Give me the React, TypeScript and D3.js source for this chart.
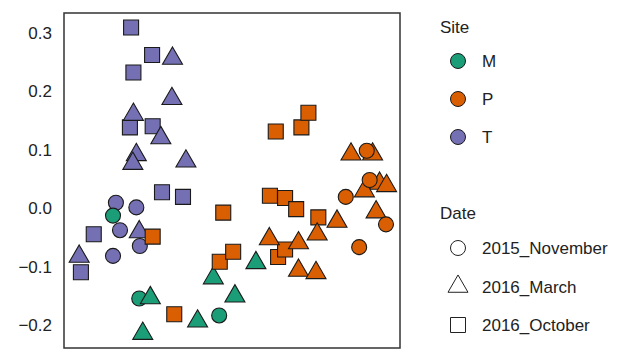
import React from 'react';
import * as d3 from 'd3';

// NMDS-style ordination: x has no visible labels, y ticks -0.2..0.3
const sites = ['M', 'P', 'T'];
const dates = ['2015_November', '2016_March', '2016_October'];
const siteColors = ['#1b9e77', '#d95f02', '#7570b3'];
const yTicks = [-0.2, -0.1, 0.0, 0.1, 0.2, 0.3];

// [x, y] per site and date
const tNov = [[-0.199, 0.009], [-0.164, 0.001], [-0.192, -0.038], [-0.158, -0.065], [-0.204, -0.082]];
const tMar = [[-0.102, 0.256], [-0.103, 0.187], [-0.169, 0.160], [-0.122, 0.120], [-0.164, 0.091], [-0.170, 0.076], [-0.079, 0.080], [-0.159, -0.041], [-0.262, -0.083]];
const tOct = [[-0.173, 0.309], [-0.137, 0.262], [-0.169, 0.232], [-0.175, 0.138], [-0.136, 0.140], [-0.120, 0.027], [-0.084, 0.019], [-0.237, -0.045], [-0.259, -0.110]];
const mNov = [[-0.204, -0.013], [-0.159, -0.155], [-0.022, -0.184]];
const mMar = [[-0.140, -0.154], [-0.153, -0.215], [-0.059, -0.194], [0.005, -0.151], [-0.032, -0.120], [0.041, -0.094]];
const pNov = [[0.236, 0.048], [0.195, 0.019], [0.264, -0.028], [0.218, -0.067]];
const pMar = [[0.204, 0.092], [0.241, 0.092], [0.253, 0.042], [0.265, 0.038], [0.227, 0.029], [0.247, -0.007], [0.180, -0.023], [0.146, -0.045], [0.064, -0.053], [0.114, -0.060], [0.114, -0.107], [0.144, -0.111]];
const pNovTop = [[0.231, 0.098]];
const pOct = [[-0.136, -0.049], [-0.099, -0.182], [-0.015, -0.008], [-0.021, -0.092], [0.002, -0.075], [0.065, 0.021], [0.091, 0.017], [0.110, -0.002], [0.079, -0.084], [0.091, -0.071], [0.148, -0.016], [0.075, 0.131], [0.119, 0.138], [0.131, 0.163]];

const groups = [
  { site: 2, date: 2, pts: tOct },
  { site: 2, date: 1, pts: tMar },
  { site: 2, date: 0, pts: tNov },
  { site: 0, date: 0, pts: mNov },
  { site: 0, date: 1, pts: mMar },
  { site: 1, date: 2, pts: pOct },
  { site: 1, date: 1, pts: pMar },
  { site: 1, date: 0, pts: pNov },
  { site: 1, date: 0, pts: pNovTop },
];

const symbols = [d3.symbolCircle, d3.symbolTriangle, d3.symbolSquare];
const symbolSizes = [177, 173, 225];

const FONT = 'Liberation Sans, Arial, sans-serif';

export default function App() {
  const width = 640;
  const height = 353;
  const panel = { left: 64, top: 13, right: 400, bottom: 348 };

  const x = d3.scaleLinear().domain([-0.288, 0.288]).range([panel.left, panel.right]);
  const y = d3.scaleLinear().domain([0, 0.3]).range([208, 208 - 0.3 * 584]);

  const sym = (i: number, size: number) => d3.symbol().type(symbols[i]).size(size)() as string;

  return (
    <svg width={width} height={height} style={{ position: 'absolute', left: 0, top: 0, background: '#fff' }}>
      <rect x={0} y={0} width={width} height={height} fill="#fff" />
      {yTicks.map(t => (
        <text key={t} x={52} y={y(t)} dy="0.36em" textAnchor="end" fontFamily={FONT} fontSize={17} fill="#222">
          {d3.format('.1f')(t)}
        </text>
      ))}
      <g>
        {groups.map((g, gi) =>
          g.pts.map((p, i) => (
            <path
              key={`${gi}-${i}`}
              d={sym(g.date, symbolSizes[g.date])}
              transform={`translate(${x(p[0])},${y(p[1])})`}
              fill={siteColors[g.site]}
              stroke="#1a1a1a"
              strokeWidth={1.1}
            />
          ))
        )}
      </g>
      <rect x={panel.left} y={panel.top} width={panel.right - panel.left} height={panel.bottom - panel.top}
        fill="none" stroke="#333" strokeWidth={1.5} />

      {/* legends */}
      <text x={440} y={27} dy="0.36em" fontFamily={FONT} fontSize={17} fill="#222">Site</text>
      {sites.map((s, i) => (
        <g key={s} transform={`translate(0,${61 + i * 38})`}>
          <circle cx={458} cy={0} r={7.5} fill={siteColors[i]} stroke="#1a1a1a" strokeWidth={1} />
          <text x={482} y={0} dy="0.36em" fontFamily={FONT} fontSize={17} fill="#222">{s}</text>
        </g>
      ))}
      <text x={440} y={213} dy="0.36em" fontFamily={FONT} fontSize={17} fill="#222">Date</text>
      {dates.map((d, i) => (
        <g key={d} transform={`translate(0,${248 + i * 38.5})`}>
          <path d={sym(i, symbolSizes[i])} transform="translate(458,0)" fill="none" stroke="#222" strokeWidth={1} />
          <text x={482} y={0} dy="0.36em" fontFamily={FONT} fontSize={17} fill="#222">{d}</text>
        </g>
      ))}
    </svg>
  );
}
